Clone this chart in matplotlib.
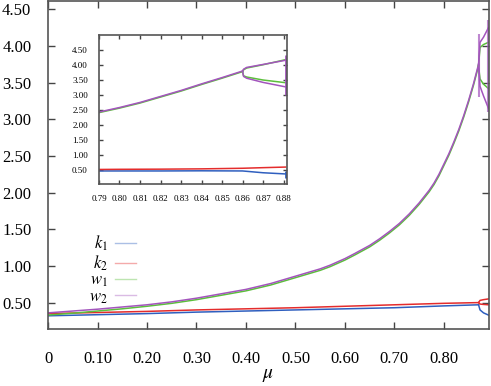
import matplotlib
matplotlib.use('Agg')
import matplotlib.pyplot as plt
from matplotlib.lines import Line2D

plt.rcParams['font.family'] = 'Liberation Serif'
plt.rcParams['mathtext.fontset'] = 'stix'

# colours of the four series
c_k1 = '#2f5fbf'
c_k2 = '#e42c2c'
c_w1 = '#5cbf3c'
c_w2 = '#a355bd'

# ---- main panel data ----
mu_main = [0, 0.05, 0.10, 0.15, 0.20, 0.25, 0.30, 0.35, 0.40, 0.45, 0.50,
           0.55, 0.57, 0.60, 0.62, 0.65, 0.67, 0.69, 0.71, 0.73, 0.75, 0.77,
           0.78, 0.79, 0.80, 0.81, 0.82, 0.83, 0.84, 0.85, 0.86, 0.87]
w2_main = [0.36, 0.385, 0.41, 0.44, 0.47, 0.51, 0.56, 0.62, 0.68, 0.76, 0.86,
           0.96, 1.01, 1.10, 1.17, 1.28, 1.37, 1.47, 1.58, 1.71, 1.86, 2.03,
           2.13, 2.25, 2.39, 2.53, 2.69, 2.86, 3.05, 3.26, 3.49, 3.75]
w1_main = [0.33, 0.355, 0.385, 0.415, 0.45, 0.49, 0.54, 0.60, 0.66, 0.74, 0.84,
           0.94, 0.99, 1.08, 1.15, 1.26, 1.35, 1.45, 1.56, 1.69, 1.84, 2.01,
           2.11, 2.23, 2.37, 2.51, 2.67, 2.84, 3.03, 3.24, 3.47, 3.73]
mu_low = [0, 0.10, 0.20, 0.30, 0.40, 0.50, 0.60, 0.70, 0.80, 0.87]
k2_main = [0.35, 0.365, 0.38, 0.40, 0.415, 0.43, 0.45, 0.47, 0.49, 0.50]
k1_main = [0.32, 0.335, 0.35, 0.37, 0.385, 0.40, 0.415, 0.43, 0.455, 0.47]

# branches after the split near mu = 0.87
mu_br = [0.870, 0.873, 0.880, 0.890]
w2_up = [3.75, 4.05, 4.12, 4.25]
w2_lo = [3.75, 3.45, 3.32, 3.15]
w1_up = [3.73, 3.98, 4.02, 4.05]
w1_lo = [3.73, 3.55, 3.48, 3.42]
k2_up = [0.50, 0.53, 0.54, 0.55]
k2_lo = [0.50, 0.48, 0.475, 0.47]
k1_br = [0.47, 0.40, 0.36, 0.33]
# scattered (chaotic) ranges
mu_chaos = [0.8715, 0.889]
w2_chaos_lo = [3.30, 3.10]
w2_chaos_hi = [4.17, 4.35]

# ---- inset data ----
mu_in = [0.79, 0.80, 0.81, 0.82, 0.83, 0.84, 0.85, 0.86]
w2_in = [2.43, 2.58, 2.75, 2.95, 3.15, 3.37, 3.58, 3.80]
w1_in = [2.41, 2.56, 2.73, 2.93, 3.13, 3.35, 3.56, 3.78]
mu_in_br = [0.86, 0.8605, 0.862, 0.87, 0.881]
w2_in_up = [3.80, 3.86, 3.92, 4.02, 4.16]
w2_in_lo = [3.80, 3.62, 3.56, 3.42, 3.27]
w1_in_up = [3.78, 3.84, 3.90, 4.01, 4.18]
w1_in_lo = [3.78, 3.64, 3.60, 3.50, 3.41]
mu_in_low = [0.79, 0.80, 0.82, 0.84, 0.86, 0.87, 0.881]
k2_in = [0.51, 0.515, 0.52, 0.53, 0.55, 0.57, 0.59]
k1_in = [0.46, 0.46, 0.46, 0.465, 0.46, 0.40, 0.36]
mu_in_chaos = [0.8812]
w2_in_chaos_lo = [3.00]
w2_in_chaos_hi = [4.35]
k1_in_chaos_lo = [0.22]
k1_in_chaos_hi = [0.46]

fig = plt.figure(figsize=(4.91, 3.86), dpi=100)
ax = fig.add_axes([0.0978, 0.1477, 0.898, 0.849])

lw = 1.1
ax.plot(mu_low, k1_main, color=c_k1, lw=lw)
ax.plot(mu_low, k2_main, color=c_k2, lw=lw)
ax.plot(mu_main, w1_main, color=c_w1, lw=lw)
ax.plot(mu_main, w2_main, color=c_w2, lw=lw)
ax.plot(mu_br, k1_br, color=c_k1, lw=lw)
ax.plot(mu_br, k2_up, color=c_k2, lw=lw)
ax.plot(mu_br, k2_lo, color=c_k2, lw=lw)
ax.plot(mu_br, w1_up, color=c_w1, lw=lw)
ax.plot(mu_br, w1_lo, color=c_w1, lw=lw)
ax.plot(mu_br, w2_up, color=c_w2, lw=lw)
ax.plot(mu_br, w2_lo, color=c_w2, lw=lw)
ax.vlines(mu_chaos, w2_chaos_lo, w2_chaos_hi, color=c_w2, lw=1.5, alpha=0.7)

ax.set_xlim(0, 0.891)
ax.set_ylim(0.14, 4.61)
ax.set_xticks([0, 0.1, 0.2, 0.3, 0.4, 0.5, 0.6, 0.7, 0.8])
ax.set_xticklabels(['0', '0.10', '0.20', '0.30', '0.40', '0.50', '0.60', '0.70', '0.80'])
yt = [0.5, 1.0, 1.5, 2.0, 2.5, 3.0, 3.5, 4.0, 4.5]
ax.set_yticks(yt)
ax.set_yticklabels(['%.2f' % v for v in yt])
ax.tick_params(direction='in', length=5, width=1, color='#444444',
               top=True, right=True, labelsize=12)
ax.tick_params(axis='x', pad=16)
ax.tick_params(axis='y', pad=12)
for s in ax.spines.values():
    s.set_color('#555555')
    s.set_linewidth(1.2)
ax.set_xlabel(r'$\mu$', fontsize=14, labelpad=0)

handles = [Line2D([], [], color=c_k1, lw=1, alpha=0.4),
           Line2D([], [], color=c_k2, lw=1, alpha=0.4),
           Line2D([], [], color=c_w1, lw=1, alpha=0.4),
           Line2D([], [], color=c_w2, lw=1, alpha=0.4)]
ax.legend(handles, [r'$k_1$', r'$k_2$', r'$w_1$', r'$w_2$'],
          loc='upper left', bbox_to_anchor=(0.075, 0.315), frameon=False,
          markerfirst=False, fontsize=12, handlelength=1.3,
          labelspacing=0.0, handletextpad=0.4, borderpad=0)

# ---- inset ----
ins = fig.add_axes([0.2016, 0.523, 0.383, 0.386])
ins.plot(mu_in_low, k1_in, color=c_k1, lw=lw)
ins.plot(mu_in_low, k2_in, color=c_k2, lw=lw)
ins.plot(mu_in, w1_in, color=c_w1, lw=lw)
ins.plot(mu_in, w2_in, color=c_w2, lw=lw)
ins.plot(mu_in_br, w1_in_up, color=c_w1, lw=lw)
ins.plot(mu_in_br, w1_in_lo, color=c_w1, lw=lw)
ins.plot(mu_in_br, w2_in_up, color=c_w2, lw=lw)
ins.plot(mu_in_br, w2_in_lo, color=c_w2, lw=lw)
ins.vlines(mu_in_chaos, w2_in_chaos_lo, w2_in_chaos_hi, color=c_w2, lw=2)
ins.vlines(mu_in_chaos, k1_in_chaos_lo, k1_in_chaos_hi, color=c_k1, lw=2)
ins.set_xlim(0.79, 0.8817)
ins.set_ylim(0.02, 5.0)
xi = [0.79, 0.80, 0.81, 0.82, 0.83, 0.84, 0.85, 0.86, 0.87, 0.88]
ins.set_xticks(xi)
ins.set_xticklabels(['%.2f' % v for v in xi])
yi = [0.5, 1.0, 1.5, 2.0, 2.5, 3.0, 3.5, 4.0, 4.5]
ins.set_yticks(yi)
ins.set_yticklabels(['%.2f' % v for v in yi])
ins.tick_params(direction='in', length=3, width=1, color='#444444',
                top=True, right=True, labelsize=6.5, pad=8)
for s in ins.spines.values():
    s.set_color('#555555')
    s.set_linewidth(1.2)

fig.savefig('out.png', dpi=100)
